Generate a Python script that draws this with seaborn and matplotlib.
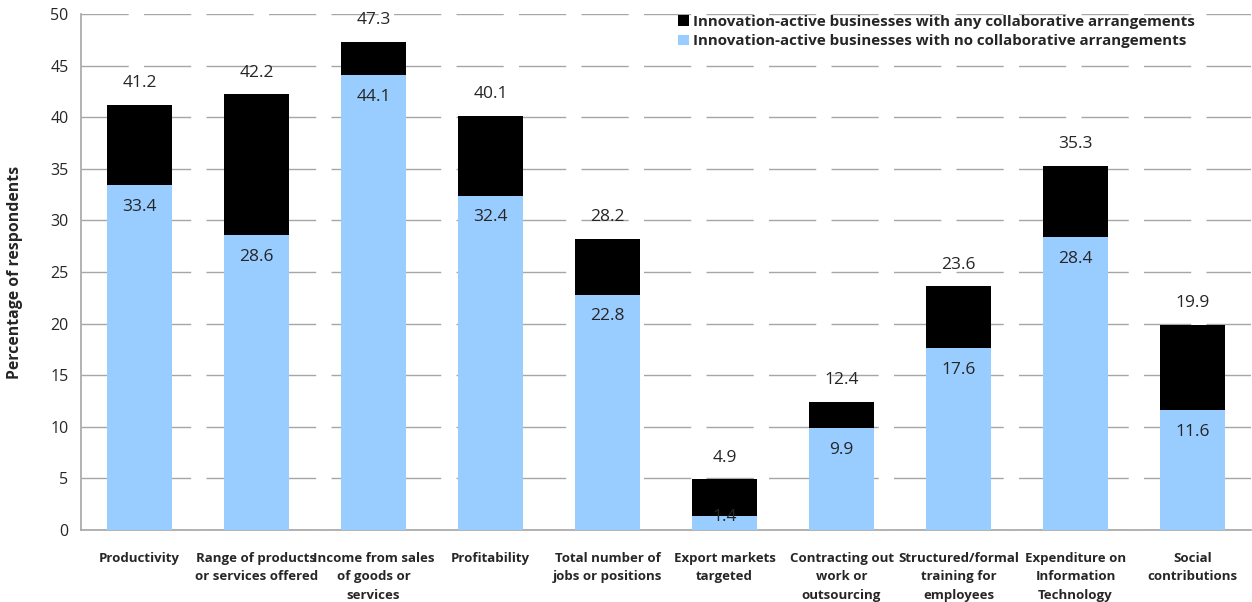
import matplotlib
matplotlib.use("Agg")
import matplotlib.pyplot as plt
from matplotlib.patches import Patch
import numpy as np
import pandas as pd
import seaborn as sns

categories = [
    "Productivity",
    "Range of products\nor services offered",
    "Income from sales\nof goods or\nservices",
    "Profitability",
    "Total number of\njobs or positions",
    "Export markets\ntargeted",
    "Contracting out\nwork or\noutsourcing",
    "Structured/formal\ntraining for\nemployees",
    "Expenditure on\nInformation\nTechnology",
    "Social\ncontributions",
]
any_collab = [41.2, 42.2, 47.3, 40.1, 28.2, 4.9, 12.4, 23.6, 35.3, 19.9]
no_collab = [33.4, 28.6, 44.1, 32.4, 22.8, 1.4, 9.9, 17.6, 28.4, 11.6]

label_any = "Innovation-active businesses with any collaborative arrangements"
label_no = "Innovation-active businesses with no collaborative arrangements"

df = pd.DataFrame({"category": categories, "any": any_collab, "no": no_collab})

sns.set_style("white")
plt.rcParams["font.family"] = ["Open Sans", "DejaVu Sans"]

BLUE = "#99CCFF"
GRID = "#A6A6A6"

fig = plt.figure(figsize=(12.52, 6.02), dpi=100)
ax = fig.add_axes([81 / 1252, 72 / 602, (1251 - 81) / 1252, (530 - 14) / 602])

sns.barplot(data=df, x="category", y="any", color="black", width=0.56,
            saturation=1, linewidth=0, ax=ax, zorder=2)
sns.barplot(data=df, x="category", y="no", color=BLUE, width=0.56,
            saturation=1, linewidth=0, ax=ax, zorder=3)

ax.set_xlim(-0.5, len(categories) - 0.5)
ax.set_ylim(0, 50)
ax.set_yticks(np.arange(0, 51, 5))
ax.tick_params(axis="y", labelsize=11.5, length=5, width=1, color=GRID,
               direction="out", pad=4)

# category labels at centres, tick marks on the category boundaries
ax.set_xticks(range(len(categories)))
ax.set_xticklabels(categories, fontsize=9.5, fontweight="bold", linespacing=1.55,
                   va="top")
ax.tick_params(axis="x", length=0, pad=15.5)
ax.set_xticks(np.arange(0.5, len(categories) - 0.5, 1), minor=True)
ax.tick_params(axis="x", which="minor", length=6, width=1, color=GRID,
               direction="out")

ax.set_xlabel("")
ax.set_ylabel("Percentage of respondents", fontsize=11.4, fontweight="bold")
ax.yaxis.set_label_coords(-0.0495, 0.5)

for side in ("top", "right"):
    ax.spines[side].set_visible(False)
for side in ("left", "bottom"):
    ax.spines[side].set_color(GRID)
    ax.spines[side].set_linewidth(1.2)

ax.set_axisbelow(True)
ax.yaxis.grid(True, color=GRID, linewidth=1, linestyle=(0, (34, 11)), zorder=0)
ax.xaxis.grid(False)

# value labels: total above the bar, "no collaboration" value just inside its bar
for i, (a, n) in enumerate(zip(any_collab, no_collab)):
    ax.text(i, a + 2.1, f"{a:.1f}", ha="center", va="center", fontsize=12.5,
            zorder=5)
    inner_y = n - 2.1 if n > 4 else n - 0.1
    ax.text(i, inner_y, f"{n:.1f}", ha="center", va="center", fontsize=12.5,
            zorder=5)

handles = [Patch(facecolor="black", edgecolor="none", label=label_any),
           Patch(facecolor=BLUE, edgecolor="none", label=label_no)]
ax.legend(handles=handles, loc="upper left", bbox_to_anchor=(0.505, 1.01),
          frameon=False, prop={"size": 10.9, "weight": "bold"},
          handlelength=0.7, handleheight=0.7, handletextpad=0.3,
          labelspacing=0.35, borderaxespad=0)

fig.savefig("out.png", dpi=100)
